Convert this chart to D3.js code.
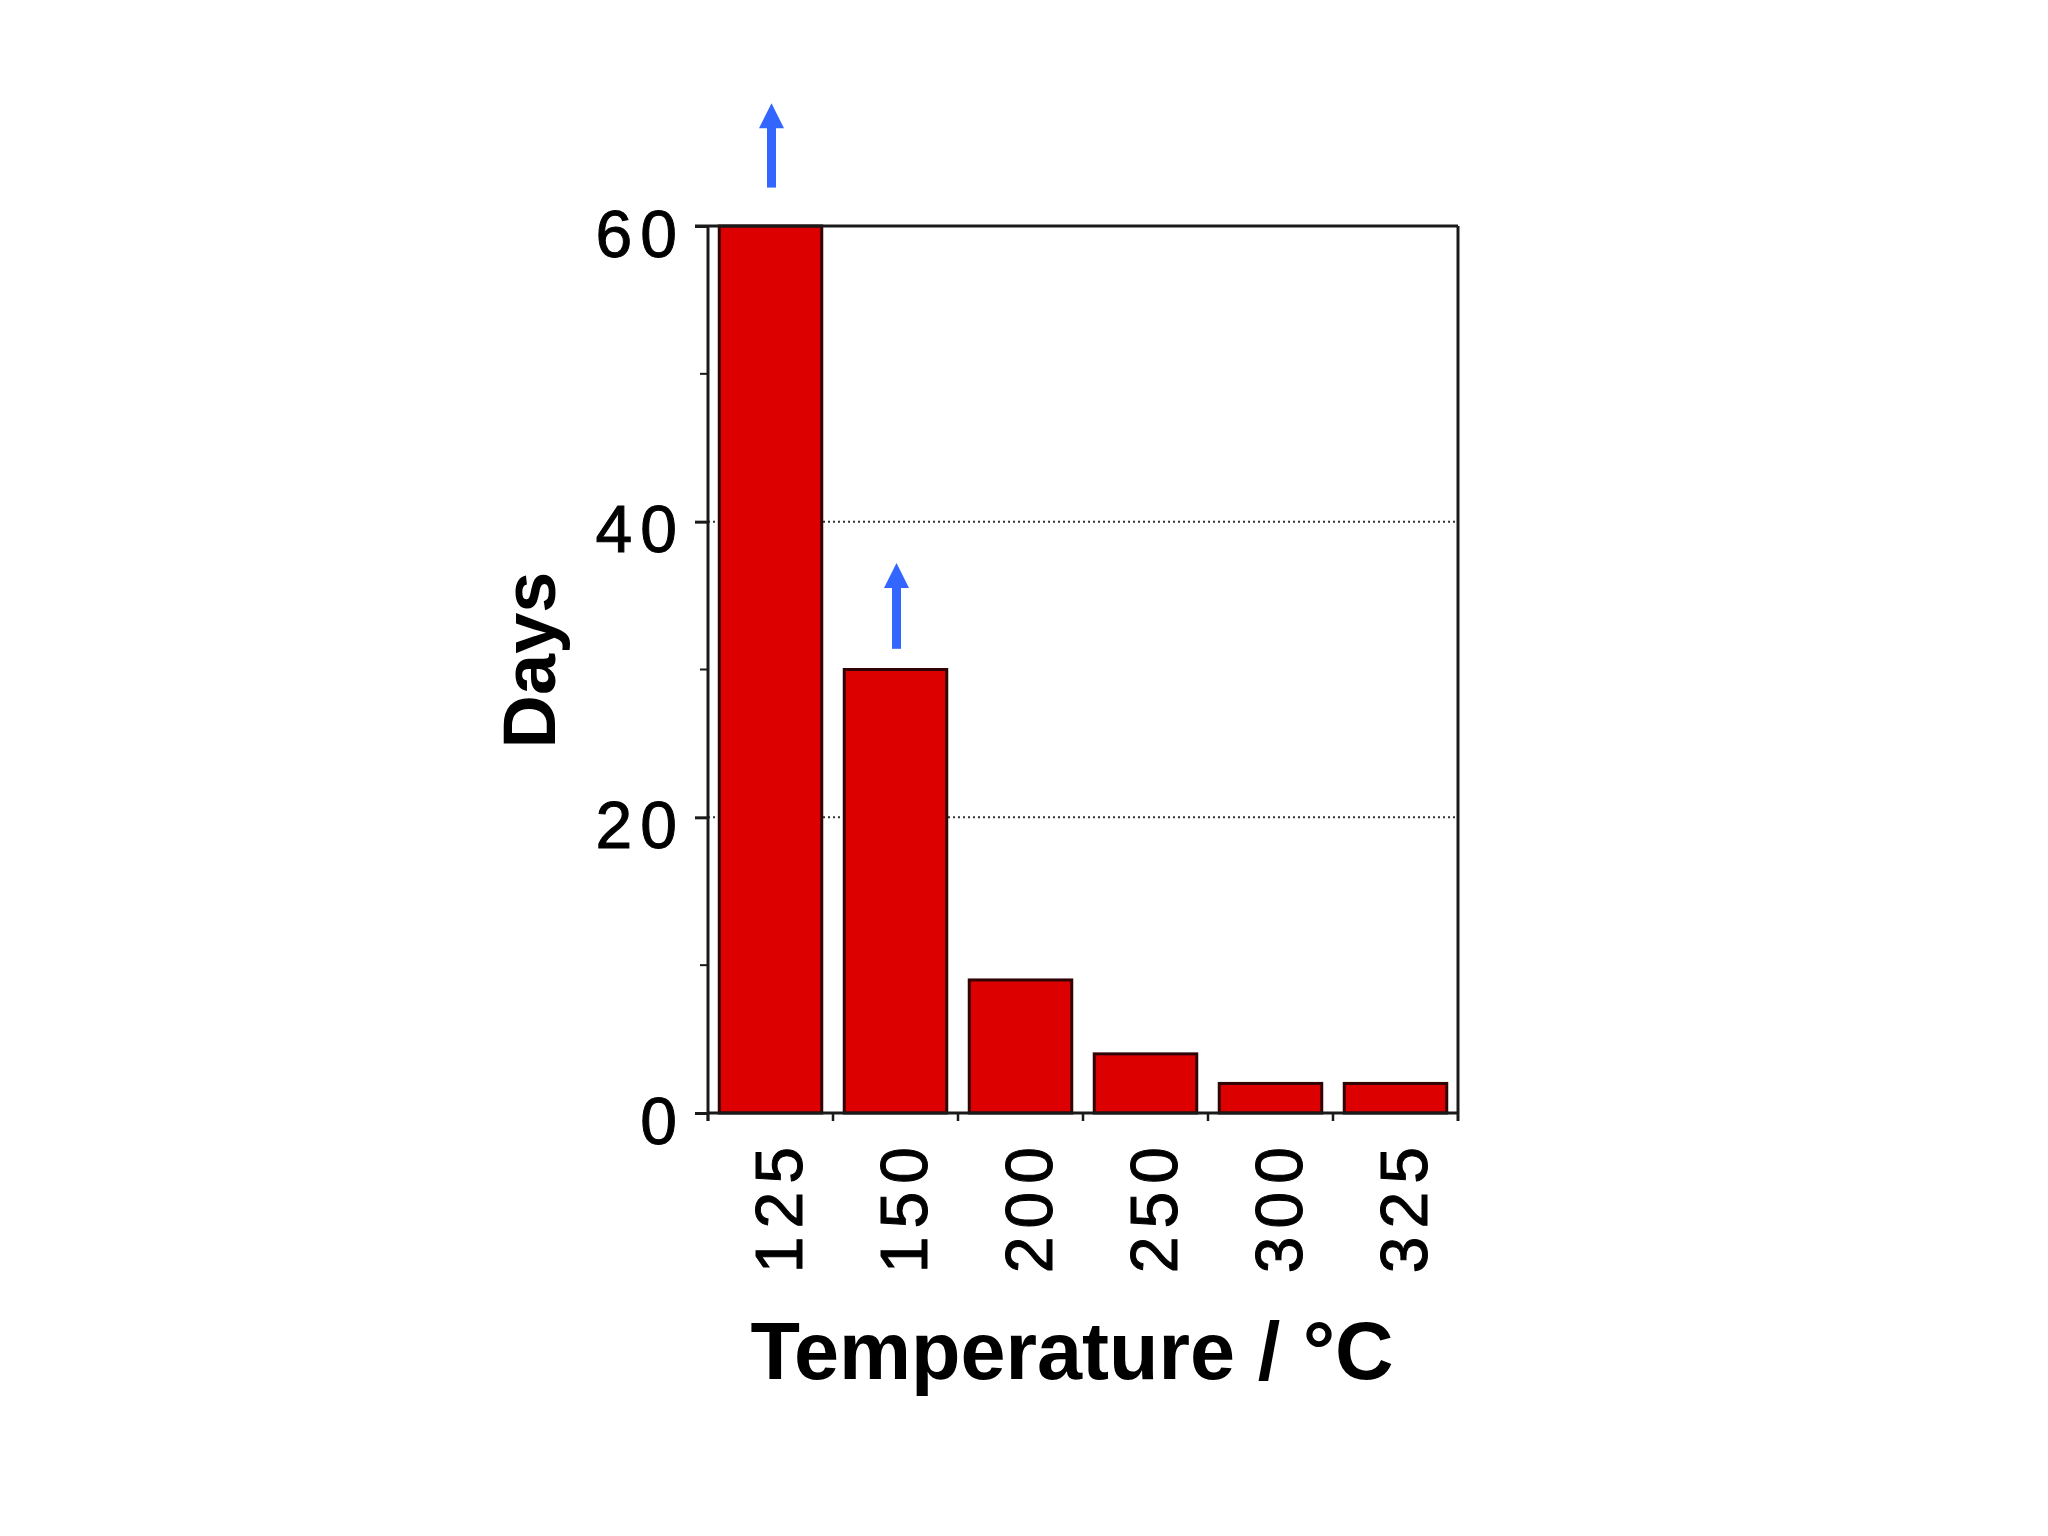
<!DOCTYPE html>
<html>
<head>
<meta charset="utf-8">
<script src="https://cdn.jsdelivr.net/npm/d3@7"></script>
<style>
  body { margin: 0; background: #fff; }
</style>
</head>
<body>
<div id="chart"></div>
<script>
// data
var categories = ["125", "150", "200", "250", "300", "325"]
var days = [60, 30, 9, 4, 2, 2]
var yTicks = [0, 20, 40, 60]
var yMinorTicks = [10, 30, 50]
var gridValues = [20, 40]
// blue arrows: "more than" markers above the first two bars (in days)
var arrowCategories = ["125", "150"]
var arrowFrom = [62.6, 31.4]
var arrowTo = [68.3, 37.2]

var width = 2048,
    height = 1536
var margin = {left: 708, top: 226, right: 590, bottom: 423}
var innerW = width - margin.left - margin.right
var innerH = height - margin.top - margin.bottom

var svg = d3.select("#chart")
  .append("svg")
  .attr("width", width)
  .attr("height", height)
  .style("background", "#fff")

var g = svg.append("g")
  .attr("transform", "translate(" + margin.left + "," + margin.top + ")")

var x = d3.scaleBand()
  .domain(categories)
  .range([0, innerW])
  .paddingInner(0.18)
  .paddingOuter(0.09)

var y = d3.scaleLinear()
  .domain([0, 60])
  .range([innerH, 0])

var frameColor = "#1a1a1a"

// dotted grid lines (behind bars)
g.selectAll(".grid")
  .data(gridValues)
  .enter()
  .append("line")
  .attr("x1", 0)
  .attr("x2", innerW - 3)
  .attr("y1", function(d) { return y(d) })
  .attr("y2", function(d) { return y(d) })
  .attr("stroke", "#333")
  .attr("stroke-width", 2)
  .attr("stroke-dasharray", "2,3")

// bars
g.selectAll(".bar")
  .data(categories)
  .enter()
  .append("rect")
  .attr("x", function(d) { return x(d) })
  .attr("width", x.bandwidth())
  .attr("y", function(d, i) { return y(days[i]) })
  .attr("height", function(d, i) { return innerH - y(days[i]) })
  .attr("fill", "#dd0000")
  .attr("stroke", "#300404")
  .attr("stroke-width", 3)

// frame: top and right
g.append("line")
  .attr("x1", -13).attr("x2", innerW)
  .attr("y1", 0).attr("y2", 0)
  .attr("stroke", frameColor).attr("stroke-width", 3)
g.append("line")
  .attr("x1", innerW).attr("x2", innerW)
  .attr("y1", 0).attr("y2", innerH + 8)
  .attr("stroke", frameColor).attr("stroke-width", 3)

// y axis
var yAxis = g.append("g")
  .call(d3.axisLeft(y).tickValues(yTicks).tickSize(13).tickSizeOuter(0).tickPadding(18))
yAxis.select(".domain").remove()
yAxis.append("line")
  .attr("x1", 0).attr("x2", 0)
  .attr("y1", 0).attr("y2", innerH + 8)
  .attr("stroke", frameColor).attr("stroke-width", 3)
yAxis.selectAll(".tick line")
  .attr("stroke", frameColor).attr("stroke-width", 3)
yAxis.selectAll(".tick text")
  .attr("dy", 30)
  .style("font-family", "'Liberation Sans', Arial, sans-serif")
  .style("font-size", "66px")
  .style("letter-spacing", "8px")
  .style("stroke", "#000")
  .style("stroke-width", "1px")
  .attr("x", -23)
  .attr("fill", "#000")

g.selectAll(".minor")
  .data(yMinorTicks)
  .enter()
  .append("line")
  .attr("x1", -8).attr("x2", 0)
  .attr("y1", function(d) { return y(d) })
  .attr("y2", function(d) { return y(d) })
  .attr("stroke", frameColor).attr("stroke-width", 2)

// x axis
var xAxis = g.append("g")
  .attr("transform", "translate(0," + innerH + ")")
  .call(d3.axisBottom(x).tickSize(0).tickSizeOuter(0))
xAxis.select(".domain").remove()
xAxis.append("line")
  .attr("x1", 0).attr("x2", innerW)
  .attr("y1", 0).attr("y2", 0)
  .attr("stroke", frameColor).attr("stroke-width", 3)
xAxis.selectAll(".tick text")
  .attr("transform", "rotate(-90)")
  .attr("text-anchor", "end")
  .attr("x", -26)
  .attr("y", 31)
  .attr("dy", 0)
  .style("font-family", "'Liberation Sans', Arial, sans-serif")
  .style("font-size", "66px")
  .style("letter-spacing", "8px")
  .style("stroke", "#000")
  .style("stroke-width", "1px")
  .attr("fill", "#000")

// boundary ticks between bands
var boundaries = categories.map(function(c) { return x(c) - x.step() * x.paddingOuter() })
xAxis.selectAll(".btick")
  .data(boundaries)
  .enter()
  .append("line")
  .attr("x1", function(d) { return d })
  .attr("x2", function(d) { return d })
  .attr("y1", 0).attr("y2", 8)
  .attr("stroke", frameColor).attr("stroke-width", 2.5)

// arrows
var arrowColor = "#3366ff"
arrowCategories.forEach(function(c, i) {
  var cx = x(c) + x.bandwidth() / 2 + 1
  var yBase = y(arrowFrom[i])
  var yTip = y(arrowTo[i])
  var headLen = 25
  g.append("rect")
    .attr("x", cx - 4.5)
    .attr("width", 9)
    .attr("y", yTip + headLen - 1)
    .attr("height", yBase - yTip - headLen + 1)
    .attr("fill", arrowColor)
  g.append("path")
    .attr("d", "M" + cx + "," + yTip + "L" + (cx + 12.5) + "," + (yTip + headLen) + "L" + (cx - 12.5) + "," + (yTip + headLen) + "Z")
    .attr("fill", arrowColor)
})

// axis titles
svg.append("text")
  .attr("transform", "translate(555,660) rotate(-90)")
  .attr("text-anchor", "middle")
  .style("font-family", "'Liberation Sans', Arial, sans-serif")
  .style("font-weight", "bold")
  .style("font-size", "74px")
  .text("Days")

svg.append("text")
  .attr("x", 1072)
  .attr("y", 1379)
  .attr("text-anchor", "middle")
  .style("font-family", "'Liberation Sans', Arial, sans-serif")
  .style("font-weight", "bold")
  .style("font-size", "81px")
  .text("Temperature / °C")
</script>
</body>
</html>
